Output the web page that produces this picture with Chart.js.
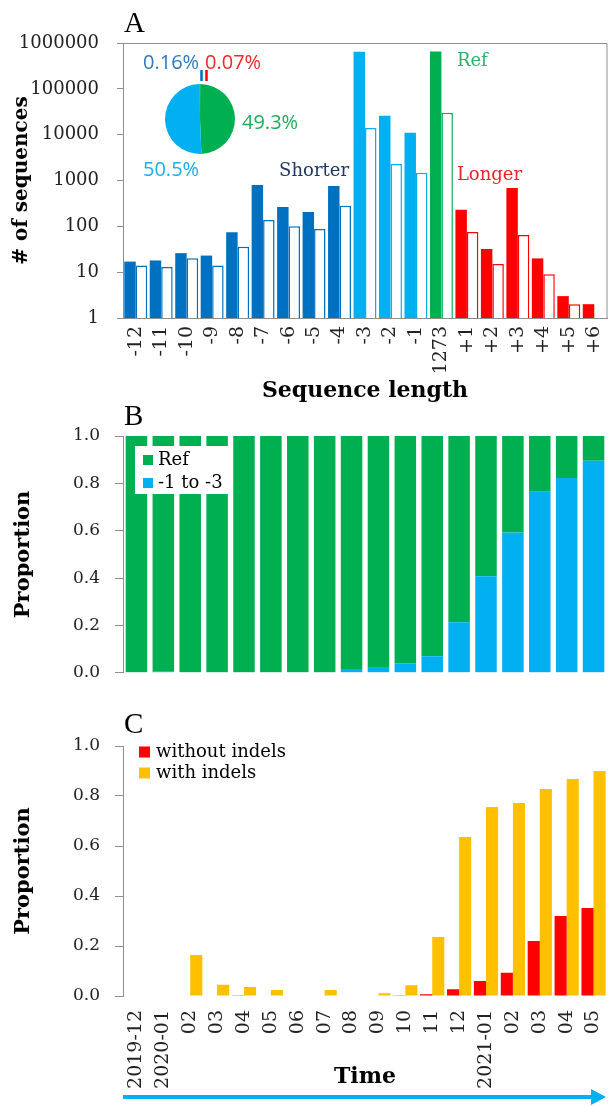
<!DOCTYPE html>
<html>
<head>
<meta charset="utf-8">
<script src="https://cdn.jsdelivr.net/npm/chart.js@4.4.0/dist/chart.umd.min.js"></script>
<style>
  body { margin: 0; background: #fff; width: 608px; height: 1106px; position: relative; overflow: hidden; }
  .panel { position: absolute; left: 0; width: 608px; }
  .pct { position: absolute; font-family: "Open Sans"; font-size: 20px; line-height: 1; white-space: nowrap; }
</style>
</head>
<body>
<div class="panel" style="top:0;height:408px"><canvas id="chartA"></canvas></div>
<div style="position:absolute;left:150px;top:60px;width:100px;height:100px"><canvas id="pieA"></canvas></div>
<div class="pct" style="left:143px;top:52px;color:#2E78C0">0.16%</div>
<div class="pct" style="left:205px;top:52px;color:#F02828">0.07%</div>
<div class="pct" style="left:242px;top:112px;color:#1FAE5A">49.3%</div>
<div class="pct" style="left:143px;top:159px;color:#1AAEEA">50.5%</div>
<div class="panel" style="top:396px;height:302px"><canvas id="chartB"></canvas></div>
<div class="panel" style="top:690px;height:416px"><canvas id="chartC"></canvas></div>

<script>
// ---- Panel A: sequence length counts ----
const lengthLabels = ['-12','-11','-10','-9','-8','-7','-6','-5','-4','-3','-2','-1','1273','+1','+2','+3','+4','+5','+6'];
const lengthGroups = ['short','short','short','short','short','short','short','short','short','mid','mid','mid','ref','long','long','long','long','long','long'];
const countsFilled = [17, 18, 26, 23, 74, 800, 265, 205, 760, 645000, 26000, 11000, 650000, 230, 32, 690, 20, 3, 2];
const countsOpen   = [14, 13, 20, 14, 36, 137, 100, 88, 280, 14000, 2300, 1470, 30000, 75, 15, 65, 9, 2, null];
const yTicksA = [1, 10, 100, 1000, 10000, 100000, 1000000];

// pie inset (percent of sequences)
const pieLabels = ['Longer', 'Ref', '-1 to -3', 'Shorter'];
const pieGroups = ['long', 'ref', 'mid', 'short'];
const pieShares = [0.07, 49.3, 50.5, 0.16];

// text notes on panel A
const noteTexts = ['Shorter', 'Ref', 'Longer'];
const noteCats = ['-5', '+1', '+1'];
const noteValues = [1550, 400000, 1320];

// ---- Panel B / C: monthly proportions ----
const months = ['2019-12','2020-01','02','03','04','05','06','07','08','09','10','11','12','2021-01','02','03','04','05'];
const shareShort = [0, 0.004, 0, 0, 0, 0, 0, 0, 0.016, 0.025, 0.04, 0.07, 0.213, 0.408, 0.592, 0.765, 0.823, 0.895];
const shareRef   = [1, 0.996, 1, 1, 1, 1, 1, 1, 0.984, 0.975, 0.96, 0.93, 0.787, 0.592, 0.408, 0.235, 0.177, 0.105];
const withoutIndels = [0, 0, 0, 0, 0.003, 0.002, 0, 0.002, 0.002, 0, 0.003, 0.007, 0.027, 0.06, 0.093, 0.22, 0.32, 0.352];
const withIndels    = [0, 0, 0.164, 0.045, 0.036, 0.024, 0, 0.024, 0.002, 0.011, 0.043, 0.236, 0.636, 0.756, 0.772, 0.828, 0.868, 0.9];
const yTicksProp = [0, 0.2, 0.4, 0.6, 0.8, 1.0];

const groupColors = { short: '#0070C0', mid: '#00B0F0', ref: '#00B050', long: '#FF0000' };
const noteColors = ['#1F3864', '#2DB36A', '#E8222A'];
const axisGray = '#8f8f8f';
const serif = '"DejaVu Serif"';

// panel letter (A, B, C) above the plot
const panelLetter = {
  id: 'panelLetter',
  afterDraw(chart, args, opts) {
    const ctx = chart.ctx;
    ctx.save();
    ctx.font = '29px "Liberation Serif"';
    ctx.fillStyle = '#000';
    ctx.textBaseline = 'alphabetic';
    ctx.fillText(opts.text, chart.chartArea.left + 1, chart.chartArea.top - opts.gap);
    ctx.restore();
  }
};

// top + right frame lines for panel A
const frameLines = {
  id: 'frameLines',
  afterDraw(chart) {
    const a = chart.chartArea, ctx = chart.ctx;
    ctx.save();
    ctx.strokeStyle = axisGray;
    ctx.lineWidth = 1;
    ctx.beginPath();
    ctx.moveTo(a.left - 6, a.top + 0.5);
    ctx.lineTo(a.right, a.top + 0.5);
    ctx.lineTo(a.right, a.bottom);
    ctx.stroke();
    ctx.restore();
  }
};

// Shorter / Ref / Longer notes
const groupNotes = {
  id: 'groupNotes',
  afterDraw(chart) {
    const ctx = chart.ctx, x = chart.scales.x, y = chart.scales.y;
    ctx.save();
    ctx.font = '18px ' + serif;
    ctx.textBaseline = 'middle';
    noteTexts.forEach((t, i) => {
      const px = x.getPixelForValue(lengthLabels.indexOf(noteCats[i]));
      ctx.fillStyle = noteColors[i];
      if (i === 0) { ctx.textAlign = 'center'; ctx.fillText(t, px, y.getPixelForValue(noteValues[i])); }
      else { ctx.textAlign = 'left'; ctx.fillText(t, px - 10, y.getPixelForValue(noteValues[i])); }
    });
    ctx.restore();
  }
};

// legend box drawn inside the plot area
const boxLegend = {
  id: 'boxLegend',
  afterDatasetsDraw(chart, args, opts) {
    const ctx = chart.ctx, a = chart.chartArea;
    ctx.save();
    if (opts.fill) {
      ctx.fillStyle = '#fff';
      ctx.fillRect(a.left + opts.x, a.top + opts.y, opts.w, opts.h);
    }
    ctx.font = '18px ' + serif;
    ctx.textBaseline = 'middle';
    ctx.textAlign = 'left';
    opts.order.forEach((di, k) => {
      const ds = chart.data.datasets[di];
      const cy = a.top + opts.y + opts.first + k * opts.step;
      ctx.fillStyle = ds.backgroundColor;
      ctx.fillRect(a.left + opts.x + opts.sq, cy - opts.size / 2, opts.size, opts.size);
      ctx.fillStyle = '#000';
      ctx.fillText(ds.label, a.left + opts.x + opts.tx, cy);
    });
    ctx.restore();
  }
};

// blue time arrow under panel C
const timeArrow = {
  id: 'timeArrow',
  afterDraw(chart) {
    const ctx = chart.ctx, a = chart.chartArea;
    const y = chart.height - 9;
    ctx.save();
    ctx.strokeStyle = '#00B0F0';
    ctx.fillStyle = '#00B0F0';
    ctx.lineWidth = 4;
    ctx.beginPath();
    ctx.moveTo(a.left, y);
    ctx.lineTo(a.right - 12, y);
    ctx.stroke();
    ctx.beginPath();
    ctx.moveTo(a.right - 1, y);
    ctx.lineTo(a.right - 16, y - 8);
    ctx.lineTo(a.right - 16, y + 8);
    ctx.closePath();
    ctx.fill();
    ctx.restore();
  }
};

// leader marks for the tiny pie slices
const pieMarks = {
  id: 'pieMarks',
  afterDraw(chart) {
    const ctx = chart.ctx;
    const arcs = chart.getDatasetMeta(0).data;
    const cx = arcs[0].x, cy = arcs[0].y, r = arcs[0].outerRadius;
    ctx.save();
    ctx.lineWidth = 2.5;
    [3, 0].forEach((i, k) => {
      ctx.strokeStyle = groupColors[pieGroups[i]];
      const mx = cx + 1.5 + k * 5;
      ctx.beginPath();
      ctx.moveTo(mx, cy - r - 14);
      ctx.lineTo(mx, cy - r - 3);
      ctx.stroke();
    });
    ctx.restore();
  }
};

// keep rotated x labels from shrinking the plot sideways
function noSidePadding(s) { s.paddingLeft = 0; s.paddingRight = 0; }

function propYAxis() {
  return {
    min: 0, max: 1,
    afterBuildTicks(s) { s.ticks = yTicksProp.map(v => ({ value: v })); },
    ticks: { callback: v => Number(v).toFixed(1), font: { family: serif, size: 17 }, color: '#222', padding: 15 },
    grid: { drawOnChartArea: false, tickLength: 8, color: axisGray },
    border: { color: axisGray },
    title: { display: true, text: 'Proportion', font: { family: serif, size: 21, weight: 'bold' }, color: '#000', padding: { top: 11 } },
    afterFit(s) { s.width = 123; }
  };
}

new Chart(document.getElementById('chartA'), {
  type: 'bar',
  data: {
    labels: lengthLabels,
    datasets: [
      {
        label: 'filled',
        data: countsFilled,
        backgroundColor: lengthGroups.map(g => groupColors[g]),
        borderWidth: 0
      },
      {
        label: 'open',
        data: countsOpen,
        backgroundColor: '#ffffff',
        borderColor: lengthGroups.map(g => groupColors[g]),
        borderWidth: 1.5
      }
    ]
  },
  options: {
    responsive: true,
    maintainAspectRatio: false,
    animation: false,
    layout: { padding: { top: 43, right: 1, left: 0, bottom: 0 } },
    datasets: { bar: { barPercentage: 1, categoryPercentage: 0.9 } },
    plugins: {
      legend: { display: false },
      tooltip: { enabled: false },
      panelLetter: { text: 'A', gap: 11 }
    },
    scales: {
      x: {
        grid: { display: false, drawTicks: false },
        border: { color: axisGray },
        ticks: { autoSkip: false, minRotation: 90, maxRotation: 90, font: { family: serif, size: 19 }, color: '#222', padding: 8 },
        title: { display: true, text: 'Sequence length', font: { family: serif, size: 22, weight: 'bold' }, color: '#000', padding: { top: 0, bottom: 4 } },
        afterFit(s) { s.height = 90; noSidePadding(s); }
      },
      y: {
        type: 'logarithmic',
        min: 1, max: 1000000,
        afterBuildTicks(s) { s.ticks = yTicksA.map(v => ({ value: v })); },
        ticks: { callback: v => String(v), font: { family: serif, size: 18 }, color: '#222', padding: 18 },
        grid: { drawOnChartArea: false, tickLength: 6, color: axisGray },
        border: { color: axisGray },
        title: { display: true, text: '# of sequences', font: { family: serif, size: 20, weight: 'bold' }, color: '#000', padding: { top: 10 } },
        afterFit(s) { s.width = 123; }
      }
    }
  },
  plugins: [panelLetter, frameLines, groupNotes]
});

new Chart(document.getElementById('pieA'), {
  type: 'pie',
  data: {
    labels: pieLabels,
    datasets: [{
      data: pieShares,
      backgroundColor: pieGroups.map(g => groupColors[g]),
      borderWidth: 0
    }]
  },
  options: {
    responsive: true,
    maintainAspectRatio: false,
    animation: false,
    layout: { padding: { top: 24, bottom: 6, left: 15, right: 15 } },
    plugins: { legend: { display: false }, tooltip: { enabled: false } }
  },
  plugins: [pieMarks]
});

new Chart(document.getElementById('chartB'), {
  type: 'bar',
  data: {
    labels: months,
    datasets: [
      { label: '-1 to -3', data: shareShort, backgroundColor: groupColors.mid, borderWidth: 0 },
      { label: 'Ref', data: shareRef, backgroundColor: groupColors.ref, borderWidth: 0 }
    ]
  },
  options: {
    responsive: true,
    maintainAspectRatio: false,
    animation: false,
    layout: { padding: { top: 40, right: 1, left: 0, bottom: 12 } },
    datasets: { bar: { barPercentage: 0.8, categoryPercentage: 1 } },
    plugins: {
      legend: { display: false },
      tooltip: { enabled: false },
      panelLetter: { text: 'B', gap: 11 },
      boxLegend: { fill: true, order: [1, 0], x: 12, y: 10, w: 93, h: 48, first: 14, step: 23, sq: 8, tx: 23, size: 10 }
    },
    scales: {
      x: { stacked: true, display: false },
      y: Object.assign(propYAxis(), { stacked: true })
    }
  },
  plugins: [panelLetter, boxLegend]
});

new Chart(document.getElementById('chartC'), {
  type: 'bar',
  data: {
    labels: months,
    datasets: [
      { label: 'without indels', data: withoutIndels, backgroundColor: '#FF0000', borderWidth: 0 },
      { label: 'with indels', data: withIndels, backgroundColor: '#FFC000', borderWidth: 0 }
    ]
  },
  options: {
    responsive: true,
    maintainAspectRatio: false,
    animation: false,
    layout: { padding: { top: 56, right: 1, left: 0, bottom: 0 } },
    datasets: { bar: { barPercentage: 1, categoryPercentage: 0.9 } },
    plugins: {
      legend: { display: false },
      tooltip: { enabled: false },
      panelLetter: { text: 'C', gap: 13 },
      boxLegend: { fill: false, order: [0, 1], x: 16, y: 0, w: 0, h: 0, first: 6, step: 21, sq: 0, tx: 17, size: 11 }
    },
    scales: {
      x: {
        grid: { display: false, drawTicks: false },
        border: { display: false },
        ticks: { autoSkip: false, minRotation: 90, maxRotation: 90, font: { family: serif, size: 19 }, color: '#222', padding: 14 },
        title: { display: true, text: 'Time', font: { family: serif, size: 22, weight: 'bold' }, color: '#000', padding: { top: 0, bottom: 16 } },
        afterFit(s) { s.height = 110; noSidePadding(s); }
      },
      y: propYAxis()
    }
  },
  plugins: [panelLetter, boxLegend, timeArrow]
});
</script>
</body>
</html>
